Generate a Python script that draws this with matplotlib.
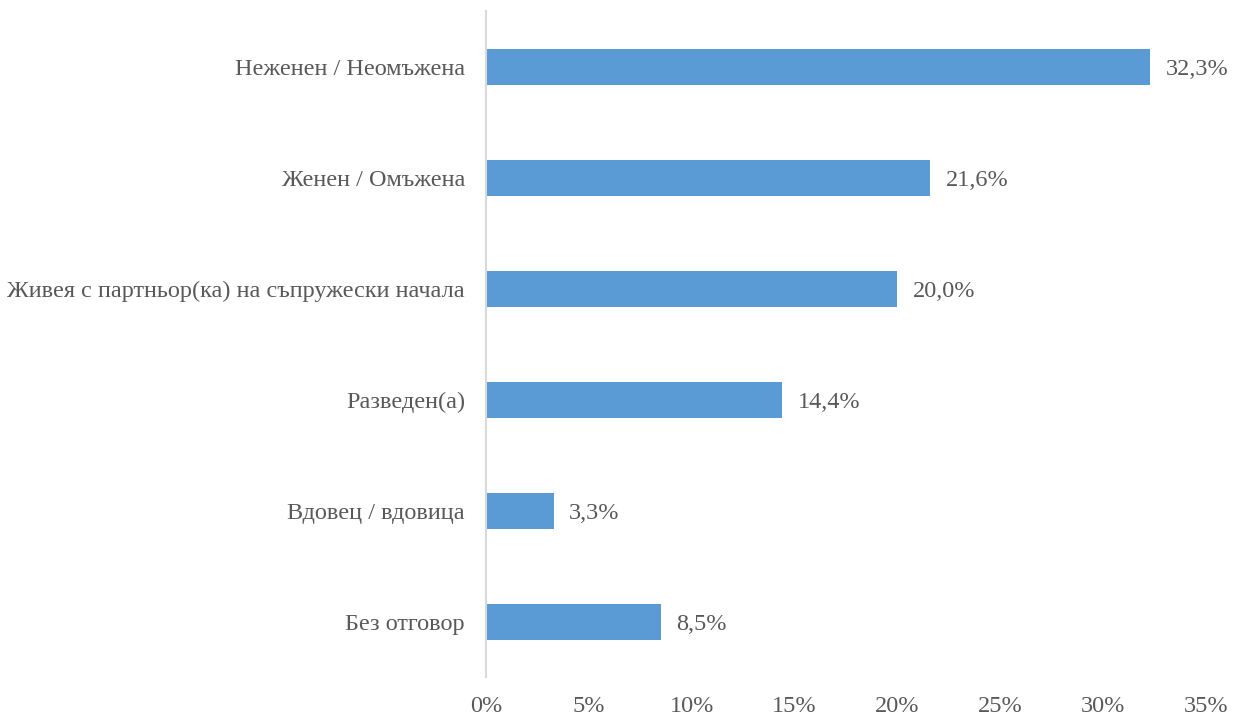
import matplotlib
matplotlib.use("Agg")
import matplotlib.pyplot as plt
from matplotlib.ticker import FuncFormatter

# marital status shares, in percent
categories = [
    "Неженен / Неомъжена",
    "Женен / Омъжена",
    "Живея с партньор(ка) на съпружески начала",
    "Разведен(а)",
    "Вдовец / вдовица",
    "Без отговор",
]
values = [32.3, 21.6, 20.0, 14.4, 3.3, 8.5]
xticks = [0, 5, 10, 15, 20, 25, 30, 35]

plt.rcParams['font.family'] = ['Liberation Serif', 'DejaVu Serif']
text_color = '#595959'
fsize = 17.5

fig = plt.figure(figsize=(12.34, 7.17), dpi=100)
ax = fig.add_axes([0.3938, 0.0551, 0.5835, 0.929])

ypos = list(range(len(categories)))
bars = ax.barh(ypos, values, height=0.32, color='#5B9BD5')

for y, v in zip(ypos, values):
    ax.annotate('{:.1f}%'.format(v).replace('.', ','), xy=(v, y),
                xytext=(11, 0), textcoords='offset points',
                va='center_baseline', ha='left', fontsize=fsize, color=text_color)

ax.set_yticks(ypos)
ax.set_yticklabels(categories, va='center_baseline')
ax.set_ylim(len(categories) - 0.5, -0.5)
ax.set_xlim(0, 35)
ax.set_xticks(xticks)
ax.xaxis.set_major_formatter(FuncFormatter(lambda x, p: '{:d}%'.format(int(x))))

for side in ['top', 'right', 'bottom']:
    ax.spines[side].set_visible(False)
ax.spines['left'].set_color('#D9D9D9')
ax.spines['left'].set_linewidth(1.5)

ax.tick_params(axis='y', length=0, pad=15, labelsize=fsize, labelcolor=text_color)
ax.tick_params(axis='x', length=0, pad=13, labelsize=fsize, labelcolor=text_color)

fig.savefig('out.png', dpi=100)
